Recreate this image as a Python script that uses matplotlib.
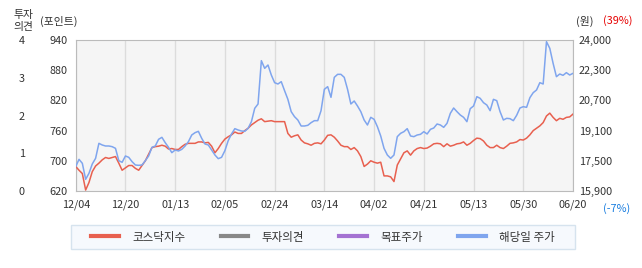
import numpy as np
import matplotlib
matplotlib.use("Agg")
import matplotlib.pyplot as plt
from matplotlib.lines import Line2D
from matplotlib.patches import Rectangle

plt.rcParams['font.family'] = ['Noto Sans CJK KR', 'DejaVu Sans']

# x tick labels (every 15 trading points)
date_labels = ['12/04', '12/20', '01/13', '02/05', '02/24', '03/14',
               '04/02', '04/21', '05/13', '05/30', '06/20']

# KOSDAQ index (left axis, points)
kosdaq = [672, 664, 657, 622, 638, 661, 673, 679, 686, 691,
          689, 691, 693, 679, 664, 669, 674, 674, 668, 664,
          674, 684, 698, 712, 714, 715, 717, 715, 709, 710,
          708, 708, 714, 719, 721, 721, 721, 724, 724, 722,
          723, 715, 701, 710, 721, 730, 735, 739, 745, 742,
          742, 748, 753, 760, 765, 770, 773, 767, 768, 769,
          767, 767, 767, 767, 742, 734, 737, 739, 728, 722,
          720, 717, 721, 722, 720, 728, 738, 739, 734, 726,
          717, 714, 714, 708, 712, 705, 693, 672, 677, 684,
          681, 679, 681, 652, 652, 650, 640, 675, 688, 701,
          705, 696, 705, 710, 712, 710, 711, 715, 720, 721,
          720, 714, 720, 715, 717, 720, 721, 724, 717, 721,
          727, 732, 731, 726, 717, 712, 712, 717, 712, 710,
          715, 721, 722, 724, 729, 728, 732, 739, 748, 753,
          758, 765, 779, 785, 776, 769, 774, 772, 776, 777,
          783]

# stock price on the day (right axis, KRW)
price = [17206, 17599, 17384, 16526, 16848, 17349, 17653, 18457, 18368, 18314,
         18314, 18278, 18189, 17527, 17438, 17778, 17706, 17474, 17295, 17277,
         17295, 17527, 17778, 18243, 18314, 18672, 18779, 18493, 18243, 17957,
         18100, 18046, 18135, 18314, 18547, 18904, 19029, 19101, 18725, 18421,
         18368, 18100, 17831, 17635, 17706, 18064, 18600, 18958, 19244, 19172,
         19119, 19101, 19262, 19619, 20335, 20567, 22891, 22480, 22659, 22123,
         21711, 21640, 21765, 21282, 20817, 20156, 19888, 19709, 19387, 19387,
         19423, 19566, 19673, 19673, 20209, 21354, 21497, 20925, 21997, 22158,
         22158, 21997, 21354, 20567, 20728, 20460, 20156, 19709, 19441, 19852,
         19745, 19351, 18851, 18189, 17831, 17653, 17831, 18815, 18994, 19083,
         19244, 18851, 18815, 18904, 18940, 19083, 18958, 19208, 19280, 19494,
         19441, 19315, 19530, 20066, 20352, 20156, 19977, 19852, 19619, 20317,
         20460, 20960, 20871, 20639, 20513, 20209, 20817, 20746, 20156, 19709,
         19798, 19780, 19673, 19959, 20352, 20424, 20388, 20907, 21175, 21318,
         21711, 21640, 23911, 23553, 22748, 22033, 22176, 22105, 22248, 22123,
         22212]

kosdaq_labels = ['620', '700', '760', '820', '880', '940']
price_labels = ['15,900', '17,500', '19,100', '20,700', '22,300', '24,000']
opinion_labels = ['0', '1', '2', '3', '4']

red = '#e8604f'
blue = '#7fa5ee'
gray = '#888888'
purple = '#a472d2'
txt = '#333333'
fs = 7.8

fig = plt.figure(figsize=(6.42, 2.68), dpi=100)
ax = fig.add_axes([75.7 / 642, 1 - 191 / 268, 497.3 / 642, 151 / 268])
ax.set_facecolor('#f5f5f5')
x = np.arange(len(kosdaq))
ax.plot(x, kosdaq, color=red, lw=1.1, zorder=3)
ax.set_xlim(0, len(kosdaq) - 1)
ax.set_ylim(620, 940)

xt = np.arange(0, len(kosdaq), 15)
ax.set_xticks(xt)
ax.set_xticklabels(date_labels, fontsize=fs, color=txt)
ax.grid(axis='x', color='#dcdcdc', lw=1)
ax.set_yticks(np.linspace(620, 940, 6))
ax.set_yticklabels(kosdaq_labels, fontsize=fs, color=txt)
ax.tick_params(axis='both', length=0)
ax.tick_params(axis='y', pad=6)
ax.tick_params(axis='x', pad=6)
for s in ax.spines.values():
    s.set_color('#bbbbbb')

ax2 = ax.twinx()
ax2.plot(x, price, color=blue, lw=1.1, zorder=2)
ax2.set_ylim(15900, 24000)
ax2.set_yticks(np.linspace(15900, 24000, 6))
ax2.set_yticklabels(price_labels, fontsize=fs, color=txt)
ax2.tick_params(axis='y', length=0, pad=4)
for s in ax2.spines.values():
    s.set_visible(False)

ax3 = ax.twinx()
ax3.set_ylim(0, 4)
ax3.yaxis.set_ticks_position('left')
ax3.set_yticks(np.arange(5))
ax3.set_yticklabels(opinion_labels, fontsize=fs, color=txt)
ax3.tick_params(axis='y', length=0, pad=39)
for lbl in ax3.get_yticklabels():
    lbl.set_horizontalalignment('center')
for s in ax3.spines.values():
    s.set_visible(False)

# header texts
fig.text(13 / 642, 1 - 21 / 268, '투자\n의견', fontsize=fs, color=txt,
         va='center', ha='left', linespacing=1.35)
fig.text(40 / 642, 1 - 21 / 268, '(포인트)', fontsize=fs, color=txt,
         va='center', ha='left')
fig.text(576 / 642, 1 - 21 / 268, '(원)', fontsize=fs, color=txt,
         va='center', ha='left')
fig.text(603 / 642, 1 - 21 / 268, '(39%)', fontsize=fs, color='#e60000',
         va='center', ha='left')
fig.text(603 / 642, 1 - 209 / 268, '(-7%)', fontsize=fs, color='#1a7ee0',
         va='center', ha='left')

# legend box
fig.patches.append(Rectangle((71 / 642, 1 - 249 / 268), 504 / 642, 24 / 268,
                             transform=fig.transFigure, facecolor='#f6f9fd',
                             edgecolor='#d6e3ee', lw=1, zorder=0))

handles = [Line2D([], [], color=red, lw=3),
           Line2D([], [], color=gray, lw=3),
           Line2D([], [], color=purple, lw=3),
           Line2D([], [], color=blue, lw=3)]
names = ['코스닥지수', '투자의견', '목표주가', '해당일 주가']
leg = fig.legend(handles, names, loc='center', ncol=4,
                 bbox_to_anchor=(323 / 642, 1 - 237 / 268),
                 fontsize=8.3, frameon=False,
                 handlelength=2.4, handletextpad=1.15, columnspacing=3.05,
                 labelcolor=txt)

fig.savefig('out.png', dpi=100)
